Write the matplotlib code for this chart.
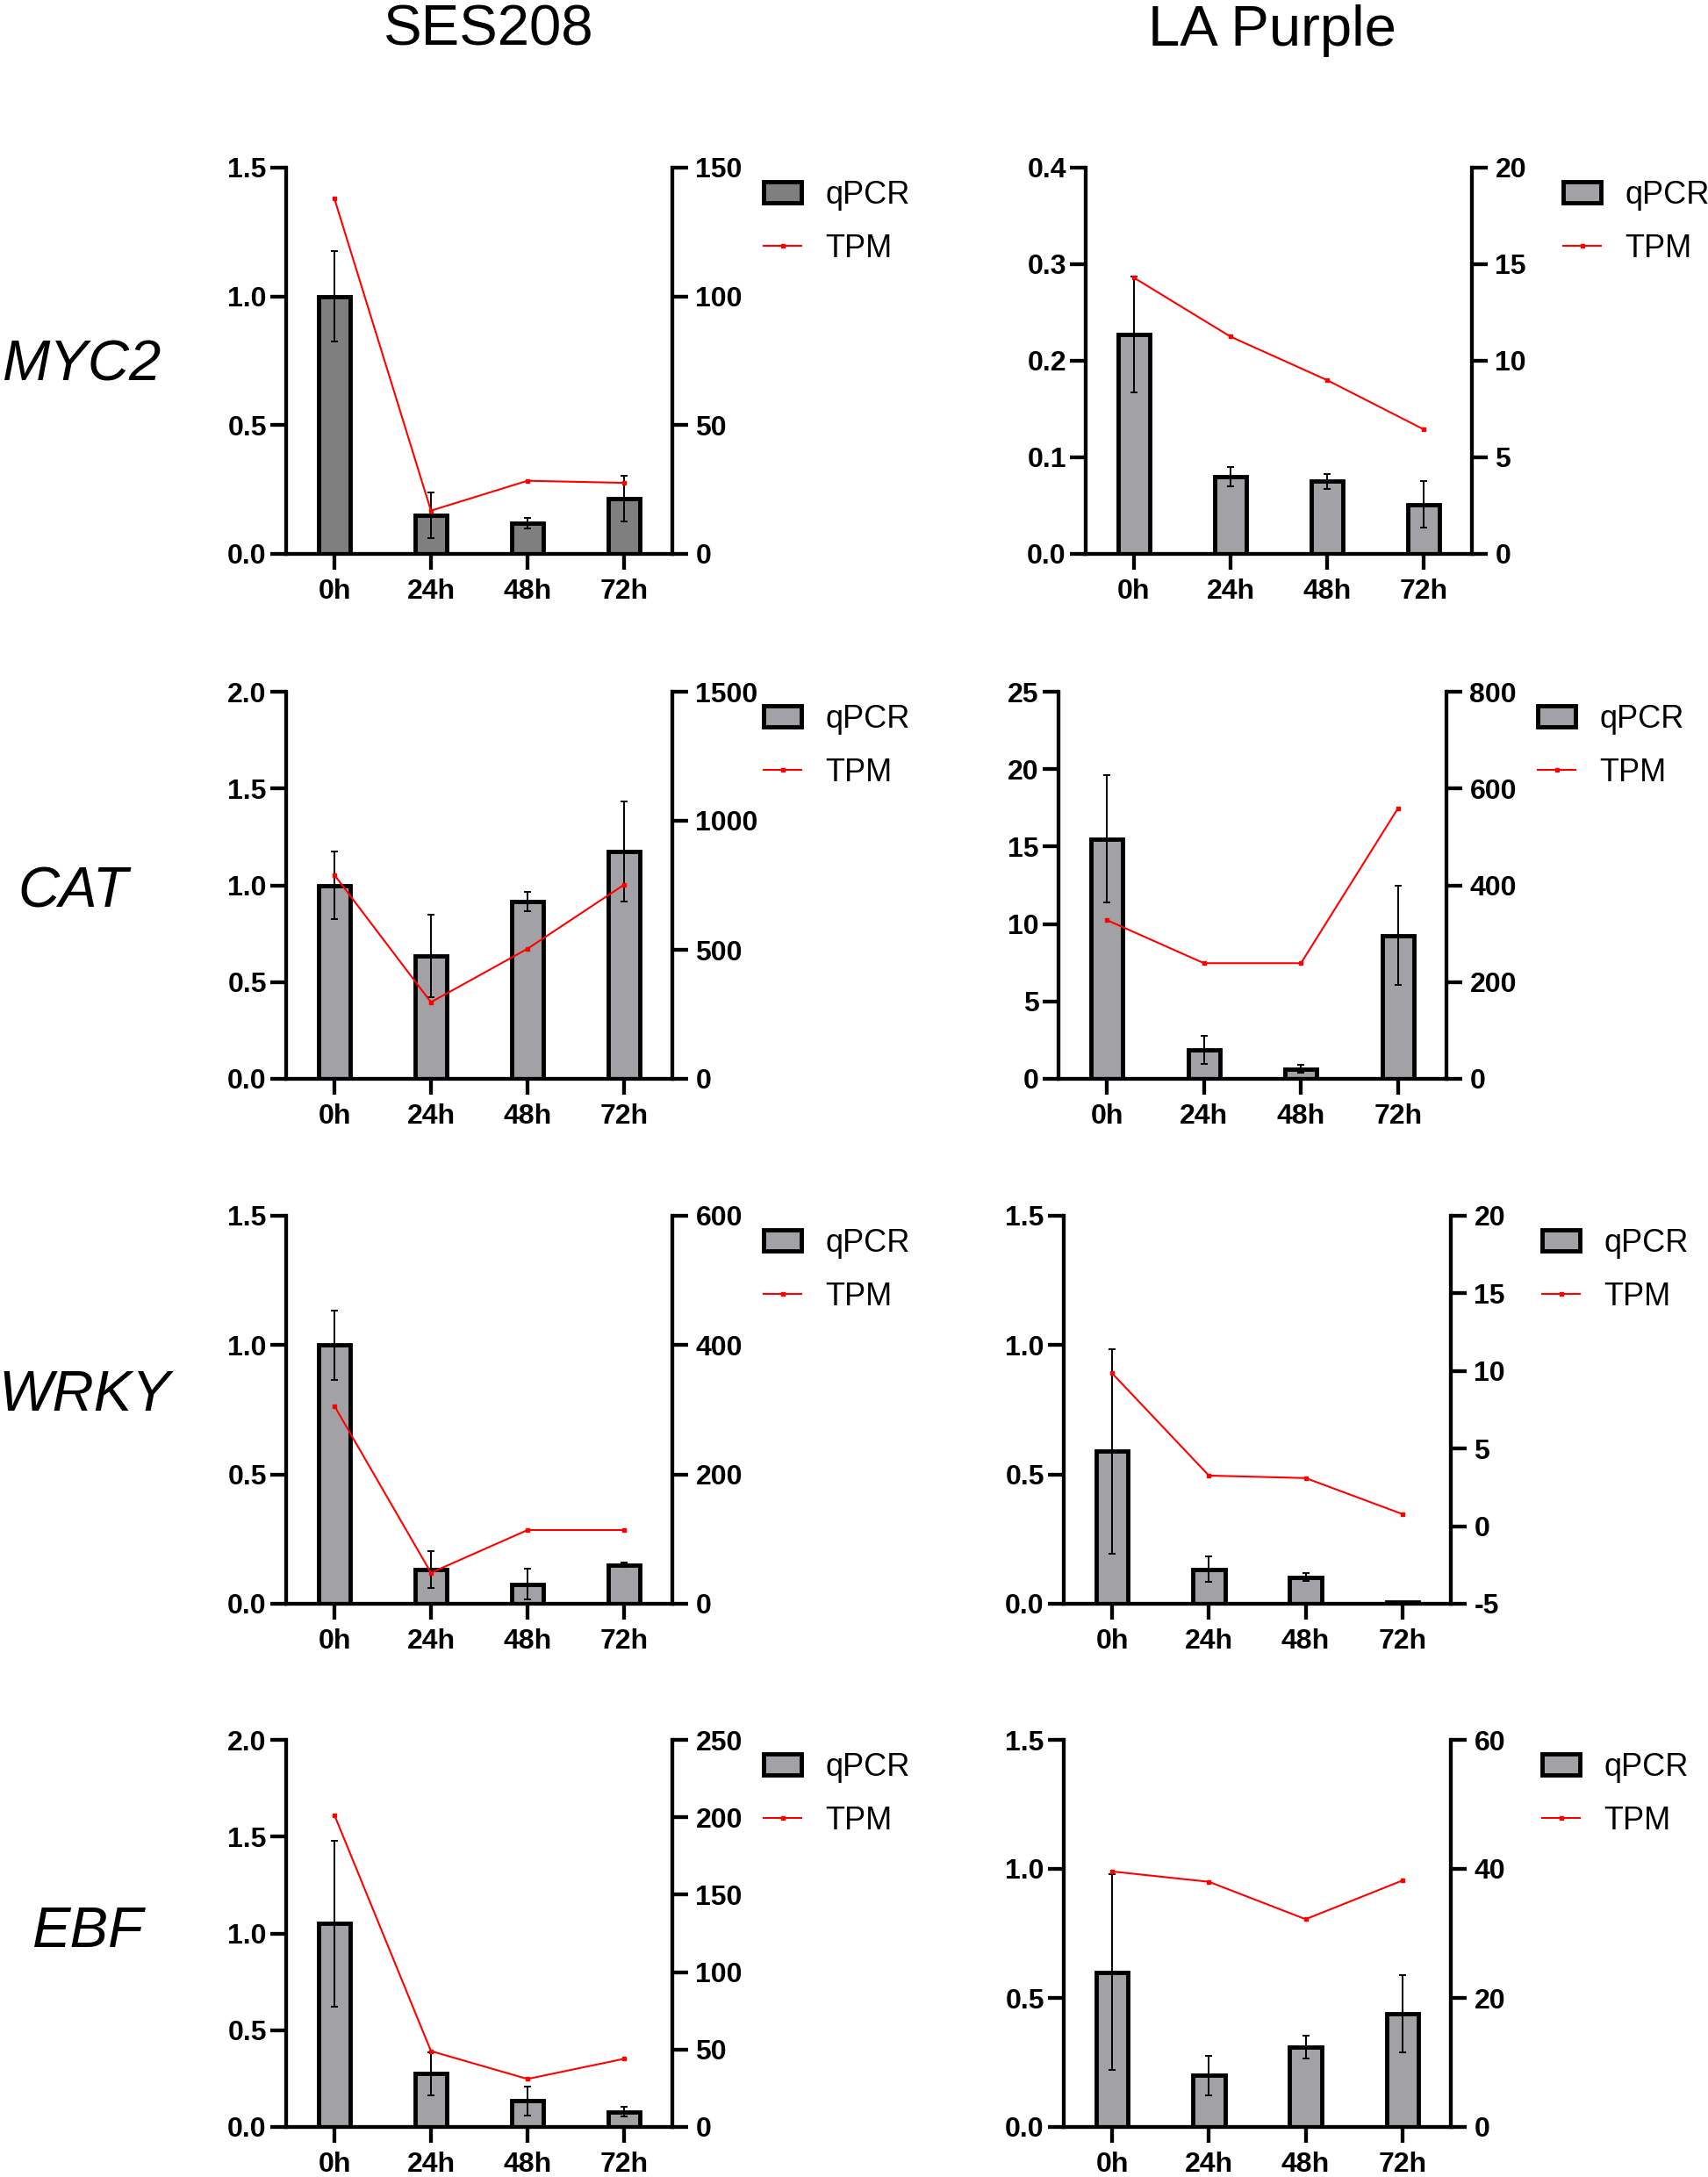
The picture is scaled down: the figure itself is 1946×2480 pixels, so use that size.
import matplotlib

matplotlib.use("Agg")
import matplotlib.pyplot as plt
from matplotlib.ticker import FormatStrFormatter, MultipleLocator

plt.rcParams["font.family"] = ["Liberation Sans", "DejaVu Sans"]

TIMES = ["0h", "24h", "48h", "72h"]
GENES = ["MYC2", "CAT", "WRKY", "EBF"]
CULTIVARS = ["SES208", "LA Purple"]

# qPCR relative expression (mean, +/- error) and RNA-seq TPM
ses_myc2_qpcr = [1.0, 0.15, 0.12, 0.215]
ses_myc2_err = [0.175, 0.088, 0.02, 0.09]
ses_myc2_tpm = [138, 16.8, 28.4, 27.6]

la_myc2_qpcr = [0.227, 0.080, 0.075, 0.051]
la_myc2_err = [0.06, 0.01, 0.008, 0.024]
la_myc2_tpm = [14.3, 11.25, 9.0, 6.45]

ses_cat_qpcr = [1.0, 0.635, 0.915, 1.175]
ses_cat_err = [0.175, 0.215, 0.05, 0.26]
ses_cat_tpm = [790, 297, 504, 752]

la_cat_qpcr = [15.5, 1.85, 0.65, 9.25]
la_cat_err = [4.1, 0.9, 0.25, 3.2]
la_cat_tpm = [328, 239, 239, 559]

ses_wrky_qpcr = [1.0, 0.132, 0.076, 0.15]
ses_wrky_err = [0.135, 0.07, 0.06, 0.008]
ses_wrky_tpm = [306, 48, 114, 114]

la_wrky_qpcr = [0.59, 0.134, 0.103, 0.006]
la_wrky_err = [0.395, 0.05, 0.015, 0.0]
la_wrky_tpm = [9.85, 3.26, 3.1, 0.78]

ses_ebf_qpcr = [1.05, 0.275, 0.135, 0.078]
ses_ebf_err = [0.43, 0.11, 0.075, 0.025]
ses_ebf_tpm = [201.5, 49, 31, 44]

la_ebf_qpcr = [0.6, 0.2, 0.31, 0.44]
la_ebf_err = [0.38, 0.076, 0.045, 0.15]
la_ebf_tpm = [39.6, 38.0, 32.2, 38.2]

# axis ranges: (left max, left step, left format, right min, right max, right step)
panels = [
    [(ses_myc2_qpcr, ses_myc2_err, ses_myc2_tpm, (1.5, 0.5, "%.1f", 0, 150, 50)),
     (la_myc2_qpcr, la_myc2_err, la_myc2_tpm, (0.4, 0.1, "%.1f", 0, 20, 5))],
    [(ses_cat_qpcr, ses_cat_err, ses_cat_tpm, (2.0, 0.5, "%.1f", 0, 1500, 500)),
     (la_cat_qpcr, la_cat_err, la_cat_tpm, (25, 5, "%d", 0, 800, 200))],
    [(ses_wrky_qpcr, ses_wrky_err, ses_wrky_tpm, (1.5, 0.5, "%.1f", 0, 600, 200)),
     (la_wrky_qpcr, la_wrky_err, la_wrky_tpm, (1.5, 0.5, "%.1f", -5, 20, 5))],
    [(ses_ebf_qpcr, ses_ebf_err, ses_ebf_tpm, (2.0, 0.5, "%.1f", 0, 250, 50)),
     (la_ebf_qpcr, la_ebf_err, la_ebf_tpm, (1.5, 0.5, "%.1f", 0, 60, 20))],
]

W, H = 1946, 2480
ROWS_PX = [(191, 631), (788, 1229), (1385, 1827), (1982, 2423)]
COLS_PX = [[(326, 766)] * 4, [(1237, 1677), (1206, 1648), (1212, 1653), (1212, 1653)]]
ROW_LABEL_PX = [(94, 433), (83, 1033), (96, 1607), (100, 2218)]
TITLE_PX = [(557, 52), (1449, 52)]

LW = 3.1
fig = plt.figure(figsize=(W / 100, H / 100), dpi=100)

for r in range(4):
    for c in range(2):
        qpcr, err, tpm, (ymax, ystep, yfmt, rmin, rmax, rstep) = panels[r][c]
        x0, x1 = COLS_PX[c][r]
        yt, yb = ROWS_PX[r]
        ax = fig.add_axes([x0 / W, 1 - yb / H, (x1 - x0) / W, (yb - yt) / H])
        ax.patch.set_alpha(0)
        xs = range(len(TIMES))
        color = "#7f7f7f" if (r == 0 and c == 0) else "#a2a2a6"
        ax.bar(xs, qpcr, width=0.33, color=color, edgecolor="black",
               linewidth=3.5, label="qPCR", zorder=2)
        ax.errorbar(xs, qpcr, yerr=err, fmt="none", ecolor="black",
                    elinewidth=1.4, capsize=3, capthick=1.4, zorder=3)
        ax.set_xlim(-0.5, 3.5)
        ax.set_ylim(0, ymax)
        ax.yaxis.set_major_locator(MultipleLocator(ystep))
        ax.yaxis.set_major_formatter(FormatStrFormatter(yfmt))
        ax.set_xticks(list(xs))
        ax.set_xticklabels(TIMES)
        for s in ("top", "right"):
            ax.spines[s].set_visible(False)
        for s in ("left", "bottom"):
            ax.spines[s].set_linewidth(LW)
        ax.tick_params(axis="y", length=13, width=LW, labelsize=23, pad=3)
        ax.tick_params(axis="x", length=13, width=LW, labelsize=23, pad=7)
        for lab in ax.get_xticklabels() + ax.get_yticklabels():
            lab.set_fontweight("bold")

        ax2 = ax.twinx()
        ax2.plot(xs, tpm, color="#ff0000", lw=1.5, marker="s", ms=3,
                 label="TPM", zorder=4)
        ax2.set_ylim(rmin, rmax)
        ax2.yaxis.set_major_locator(MultipleLocator(rstep))
        ax2.yaxis.set_major_formatter(FormatStrFormatter("%d"))
        for s in ("top", "left", "bottom"):
            ax2.spines[s].set_visible(False)
        ax2.spines["right"].set_linewidth(LW)
        ax2.tick_params(axis="y", length=13, width=LW, labelsize=23, pad=6)
        for lab in ax2.get_yticklabels():
            lab.set_fontweight("bold")

        h1, l1 = ax.get_legend_handles_labels()
        h2, l2 = ax2.get_legend_handles_labels()
        ax2.legend(h1 + h2, l1 + l2, loc="upper left",
                   bbox_to_anchor=(1 + 104 / (x1 - x0), 0.969),
                   frameon=False, fontsize=26, borderpad=0, borderaxespad=0,
                   handlelength=1.2, handleheight=0.62, handletextpad=0.75,
                   labelspacing=0.72, numpoints=1)

for c, (tx, ty) in enumerate(TITLE_PX):
    fig.text(tx / W, 1 - ty / H, CULTIVARS[c], ha="center", va="baseline",
             fontsize=47)
for r, (tx, ty) in enumerate(ROW_LABEL_PX):
    fig.text(tx / W, 1 - ty / H, GENES[r], ha="center", va="baseline",
             fontsize=47, style="italic")

fig.savefig("out.png", dpi=100)
